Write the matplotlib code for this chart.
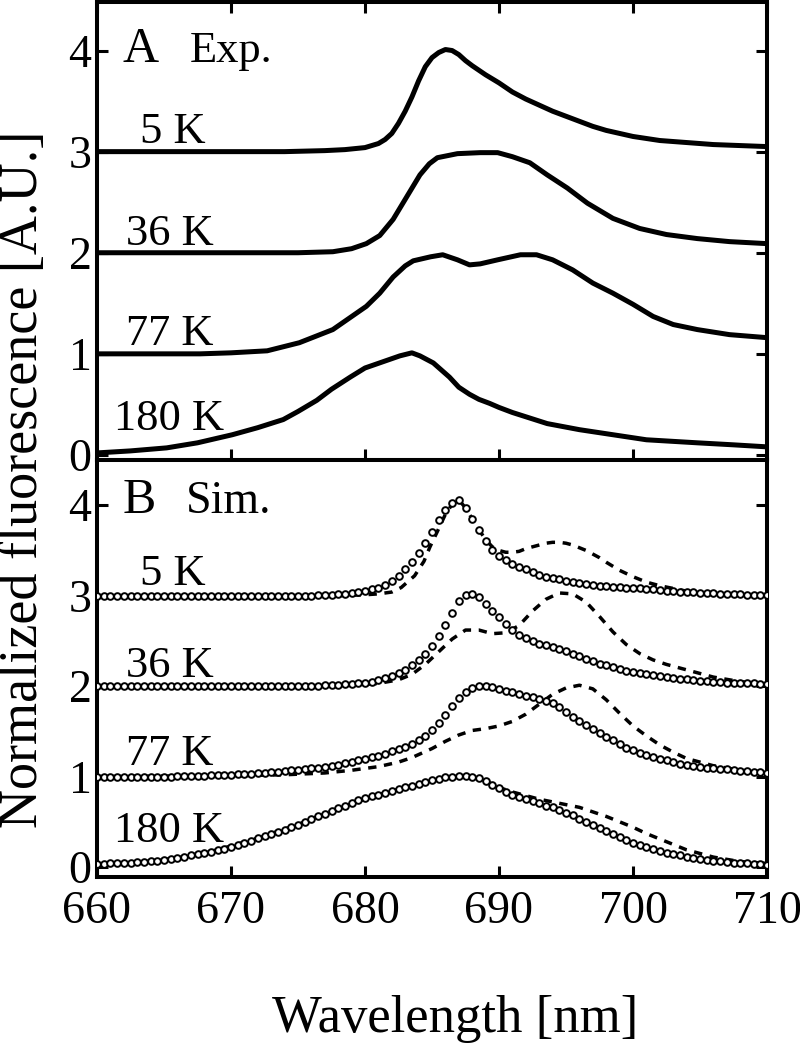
import numpy as np
import matplotlib
matplotlib.use("Agg")
import matplotlib.pyplot as plt

plt.rcParams['font.family'] = ['Liberation Serif', 'DejaVu Serif']

# ---------------- data ----------------
temps = ['5 K', '36 K', '77 K', '180 K']
offsets = [3, 2, 1, 0]
x_ticks = [660, 670, 680, 690, 700, 710]
y_ticks = [0, 1, 2, 3, 4]

# Panel A: experimental spectra (normalized, before vertical offset)
exp5_x = [660, 665, 670, 674, 677, 678.5, 680, 681, 681.5, 682, 682.5, 683, 683.5, 684, 684.5, 685,
          685.5, 686, 686.5, 687, 687.5, 688, 689, 690, 691, 692, 693, 694, 695, 696, 697, 698, 699,
          700, 702, 704, 706, 708, 710]
exp5_y = [0.00, 0.00, 0.00, 0.00, 0.01, 0.02, 0.04, 0.08, 0.12, 0.18, 0.28, 0.40, 0.54, 0.70, 0.84,
          0.93, 0.98, 1.01, 1.00, 0.96, 0.90, 0.85, 0.76, 0.68, 0.59, 0.52, 0.46, 0.40, 0.35, 0.30,
          0.25, 0.21, 0.18, 0.15, 0.11, 0.09, 0.07, 0.06, 0.05]

exp36_x = [660, 670, 675, 677.6, 679, 680.1, 681.1, 682.1, 683.1, 684.1, 684.8, 685.4, 686.9, 688.6,
           689.9, 691.0, 692.3, 693.6, 695.1, 696.6, 698.5, 700.5, 702.5, 704.8, 707.2, 710]
exp36_y = [0.00, 0.00, 0.00, 0.01, 0.04, 0.09, 0.17, 0.33, 0.55, 0.77, 0.88, 0.94, 0.98, 0.99,
           0.99, 0.95, 0.89, 0.77, 0.64, 0.49, 0.34, 0.24, 0.18, 0.14, 0.11, 0.09]

exp77_x = [660, 665, 667.7, 670, 672.7, 675.1, 677.6, 680.1, 681.1, 682.1, 683.0, 683.6, 684.9, 685.8,
           686.9, 687.8, 688.6, 689.9, 691.6, 692.8, 694.0, 695.5, 697.0, 698.5, 700.0, 701.5, 703.0,
           704.8, 707.2, 710]
exp77_y = [0.00, 0.00, 0.00, 0.01, 0.03, 0.11, 0.24, 0.47, 0.60, 0.76, 0.87, 0.92, 0.96, 0.98,
           0.93, 0.88, 0.89, 0.93, 0.98, 0.98, 0.93, 0.83, 0.70, 0.60, 0.49, 0.37, 0.29,
           0.24, 0.19, 0.16]

exp180_x = [660, 662.5, 665.2, 667.5, 670.1, 672, 673.9, 675, 676.4, 677.5, 678.9, 680, 681.3, 682.6,
            683.5, 684.1, 685.1, 686.3, 687.0, 687.8, 688.5, 689.3, 690.0, 691.0, 693.6, 696.0, 698.5,
            701.0, 704.8, 707.5, 710]
exp180_y = [0.02, 0.04, 0.07, 0.12, 0.20, 0.27, 0.35, 0.43, 0.54, 0.65, 0.77, 0.86, 0.92, 0.98,
            1.01, 0.98, 0.91, 0.77, 0.67, 0.60, 0.55, 0.51, 0.47, 0.42, 0.31, 0.25, 0.20,
            0.15, 0.12, 0.10, 0.08]

# Panel B: simulated spectra, circles sampled every 0.5 nm from 660 to 710
sim_wl = np.arange(660, 710.001, 0.5)
sim5_circ = ([0.00] * 10 + [0.00] * 10 + [0.00] * 10 +
             [0.00, 0.00, 0.00, 0.01, 0.01, 0.01, 0.02, 0.02, 0.03, 0.04] +
             [0.05, 0.07, 0.09, 0.12, 0.16, 0.22, 0.29, 0.37, 0.47, 0.58] +
             [0.70, 0.84, 0.95, 1.02, 1.06, 0.97, 0.85, 0.73, 0.61, 0.51] +
             [0.44, 0.39, 0.35, 0.32, 0.29, 0.26, 0.23, 0.21, 0.19, 0.18] +
             [0.16, 0.15, 0.14, 0.13, 0.12, 0.11, 0.11, 0.10, 0.10, 0.09] +
             [0.09, 0.08, 0.07, 0.07, 0.06, 0.05, 0.05, 0.04, 0.04, 0.04] +
             [0.03, 0.03, 0.03, 0.02, 0.02, 0.02, 0.02, 0.01, 0.01, 0.01] + [0.01])
sim36_circ = ([0.00] * 10 + [0.00] * 10 + [0.00] * 10 +
              [0.00, 0.00, 0.00, 0.00, 0.01, 0.01, 0.01, 0.02, 0.02, 0.03] +
              [0.04, 0.05, 0.07, 0.09, 0.11, 0.14, 0.18, 0.23, 0.29, 0.36] +
              [0.44, 0.55, 0.68, 0.81, 0.94, 1.01, 1.02, 0.98, 0.91, 0.83] +
              [0.76, 0.69, 0.62, 0.57, 0.53, 0.50, 0.47, 0.45, 0.43, 0.41] +
              [0.39, 0.36, 0.33, 0.30, 0.28, 0.25, 0.23, 0.21, 0.19, 0.17] +
              [0.16, 0.14, 0.13, 0.12, 0.11, 0.10, 0.09, 0.08, 0.08, 0.07] +
              [0.06, 0.06, 0.05, 0.05, 0.04, 0.04, 0.03, 0.03, 0.03, 0.02] + [0.02])
sim77_circ = ([0.00] * 10 +
              [0.00, 0.00, 0.01, 0.01, 0.01, 0.01, 0.01, 0.02, 0.02, 0.02] +
              [0.02, 0.03, 0.03, 0.03, 0.04, 0.04, 0.05, 0.05, 0.06, 0.07] +
              [0.07, 0.08, 0.09, 0.10, 0.11, 0.12, 0.13, 0.15, 0.16, 0.18] +
              [0.20, 0.22, 0.23, 0.25, 0.28, 0.31, 0.33, 0.36, 0.41, 0.45] +
              [0.51, 0.59, 0.68, 0.78, 0.87, 0.94, 0.98, 1.00, 1.00, 0.99] +
              [0.97, 0.95, 0.93, 0.91, 0.89, 0.88, 0.86, 0.84, 0.81, 0.77] +
              [0.71, 0.66, 0.62, 0.57, 0.53, 0.48, 0.44, 0.40, 0.36, 0.32] +
              [0.29, 0.26, 0.24, 0.22, 0.20, 0.18, 0.16, 0.14, 0.13, 0.12] +
              [0.11, 0.10, 0.09, 0.08, 0.08, 0.07, 0.06, 0.06, 0.05, 0.05] + [0.04])
sim180_circ = ([0.03, 0.03, 0.04, 0.04, 0.05, 0.05, 0.06, 0.06, 0.07, 0.07] +
               [0.08, 0.09, 0.10, 0.11, 0.13, 0.14, 0.16, 0.17, 0.19, 0.20] +
               [0.22, 0.24, 0.27, 0.29, 0.32, 0.34, 0.36, 0.39, 0.41, 0.44] +
               [0.47, 0.50, 0.53, 0.56, 0.59, 0.62, 0.65, 0.68, 0.71, 0.74] +
               [0.76, 0.78, 0.80, 0.82, 0.84, 0.86, 0.88, 0.90, 0.92, 0.94] +
               [0.96, 0.97, 0.99, 1.00, 1.01, 1.01, 1.00, 0.98, 0.95, 0.91] +
               [0.87, 0.83, 0.80, 0.77, 0.75, 0.73, 0.71, 0.68, 0.66, 0.63] +
               [0.60, 0.57, 0.53, 0.50, 0.46, 0.43, 0.40, 0.36, 0.33, 0.30] +
               [0.27, 0.24, 0.22, 0.20, 0.18, 0.16, 0.14, 0.13, 0.11, 0.10] +
               [0.09, 0.08, 0.07, 0.07, 0.06, 0.05, 0.05, 0.04, 0.03, 0.03] + [0.02])

# Panel B: simulated spectra, dashed curves
sim5_dash_x = [660, 676, 678, 680, 681, 682, 682.7, 683.7, 684.4, 684.85, 685.4, 686.0, 686.5, 687.0,
               687.5, 688.0, 688.5, 689.0, 689.5, 690.0, 690.5, 691.0, 691.5, 692.0, 692.5, 693.0,
               693.5, 694.0, 694.5, 695.0, 695.5, 696.0, 696.5, 697.0, 697.5, 698.0, 699.0, 700.0,
               701.0, 702.0, 703.0, 704.0, 705.0, 706.0, 708.0, 710.0]
sim5_dash_y = [0.00, 0.00, 0.00, 0.01, 0.02, 0.04, 0.09, 0.22, 0.38, 0.54, 0.71, 0.90, 1.01, 1.06,
               0.97, 0.85, 0.73, 0.62, 0.54, 0.50, 0.48, 0.48, 0.49, 0.52, 0.54, 0.56,
               0.58, 0.59, 0.59, 0.58, 0.56, 0.53, 0.50, 0.46, 0.42, 0.37, 0.28, 0.21,
               0.15, 0.11, 0.08, 0.05, 0.03, 0.02, 0.01, 0.01]
sim36_dash_x = [660, 676, 679, 681, 682.5, 683.5, 684.5, 685.5, 686.5, 687.5, 688.5, 689.5, 690.5,
                691.5, 692.5, 693.5, 694.5, 695.5, 696.5, 697.5, 698.5, 699.5, 700.5, 701.5, 702.5,
                703.5, 704.5, 706, 708, 710]
sim36_dash_y = [0.00, 0.00, 0.01, 0.03, 0.07, 0.13, 0.24, 0.38, 0.52, 0.62, 0.62, 0.58, 0.59,
                0.67, 0.83, 0.96, 1.03, 1.02, 0.93, 0.77, 0.60, 0.46, 0.36, 0.29, 0.24,
                0.20, 0.16, 0.10, 0.05, 0.02]
sim77_dash_x = [660, 670, 674, 677, 679, 681, 682.5, 683.5, 685, 686, 687, 688, 689, 690, 691, 692,
                693, 694, 695, 696, 697, 698, 699, 700, 701, 702, 703, 704, 706, 708, 710]
sim77_dash_y = [0.00, 0.01, 0.02, 0.04, 0.07, 0.11, 0.16, 0.21, 0.31, 0.39, 0.46, 0.51, 0.53, 0.56,
                0.61, 0.69, 0.80, 0.91, 0.98, 1.01, 0.97, 0.85, 0.70, 0.56, 0.45, 0.35, 0.27, 0.20,
                0.12, 0.07, 0.04]
sim180_dash_x = [660, 663, 666, 669, 672, 675, 678, 681, 684, 686, 687.5, 689, 690, 691, 692, 693,
                 694, 695, 696, 697, 698, 699, 700, 701, 702, 703, 704, 705, 706, 708, 710]
sim180_dash_y = [0.03, 0.05, 0.10, 0.19, 0.32, 0.47, 0.65, 0.80, 0.92, 0.99, 1.01, 0.95, 0.88, 0.83,
                 0.79, 0.75, 0.72, 0.69, 0.66, 0.61, 0.56, 0.50, 0.44, 0.37, 0.31, 0.25, 0.19, 0.15,
                 0.11, 0.06, 0.04]

exp_series = [(exp5_x, exp5_y), (exp36_x, exp36_y), (exp77_x, exp77_y), (exp180_x, exp180_y)]
circ_series = [sim5_circ, sim36_circ, sim77_circ, sim180_circ]
dash_series = [(sim5_dash_x, sim5_dash_y), (sim36_dash_x, sim36_dash_y),
               (sim77_dash_x, sim77_dash_y), (sim180_dash_x, sim180_dash_y)]

# ---------------- figure ----------------
W, H = 800, 1046
fig = plt.figure(figsize=(W / 100, H / 100), dpi=100)
left, right = 97 / W, 767 / W
axA = fig.add_axes([left, 1 - 460 / H, right - left, 458 / H])
axB = fig.add_axes([left, 1 - 877 / H, right - left, 417 / H])

for (xs, ys), off in zip(exp_series, offsets):
    axA.plot(xs, np.array(ys) + off, color='black', lw=3.6, solid_joinstyle='round',
             solid_capstyle='round')

for (xs, ys), off in zip(dash_series, offsets):
    axB.plot(xs, np.array(ys) + off, color='black', lw=2.5, linestyle=(0, (2.4, 2.2)), zorder=2)
for ys, off in zip(circ_series, offsets):
    axB.plot(sim_wl, np.array(ys) + off, linestyle='none', marker='o', ms=4.8,
             mfc='white', mec='black', mew=1.4, zorder=3)

axA.set_ylim(-0.05, 4.48)
axB.set_ylim(-0.11, 4.5)

for ax in (axA, axB):
    ax.set_xlim(660, 710)
    ax.set_xticks(x_ticks)
    ax.set_yticks(y_ticks)
    for s in ax.spines.values():
        s.set_linewidth(2.9)
    ax.tick_params(direction='in', length=8, width=2.2, labelsize=33, pad=4,
                   right=True, left=True)

axA.tick_params(top=True, bottom=True, labelbottom=False)
axB.tick_params(top=False, bottom=True)
axB.tick_params(axis='x', pad=10)

# panel labels
axA.text(661.9, 3.89, 'A', fontsize=36, va='baseline', ha='left')
axA.text(666.9, 3.89, 'Exp.', fontsize=32, va='baseline', ha='left')
axB.text(661.9, 3.91, 'B', fontsize=36, va='baseline', ha='left')
axB.text(666.6, 3.91, 'Sim.', fontsize=33, va='baseline', ha='left')

labA_pos = [(663.2, 3.09), (662.2, 2.08), (662.2, 1.09), (661.3, 0.25)]
labB_pos = [(663.2, 3.12), (662.2, 2.10), (662.2, 1.13), (661.3, 0.28)]
for t, (x, y) in zip(temps, labA_pos):
    axA.text(x, y, t, fontsize=32, va='baseline', ha='left')
for t, (x, y) in zip(temps, labB_pos):
    axB.text(x, y, t, fontsize=32, va='baseline', ha='left')

fig.text(24 / W, 1 - 479 / H, 'Normalized fluorescence [A.U.]', rotation=90,
         fontsize=39, ha='center', va='center')
fig.text(455 / W, 1 - 1032 / H, 'Wavelength [nm]', fontsize=38, ha='center', va='baseline')

fig.savefig('out.png', dpi=100)
